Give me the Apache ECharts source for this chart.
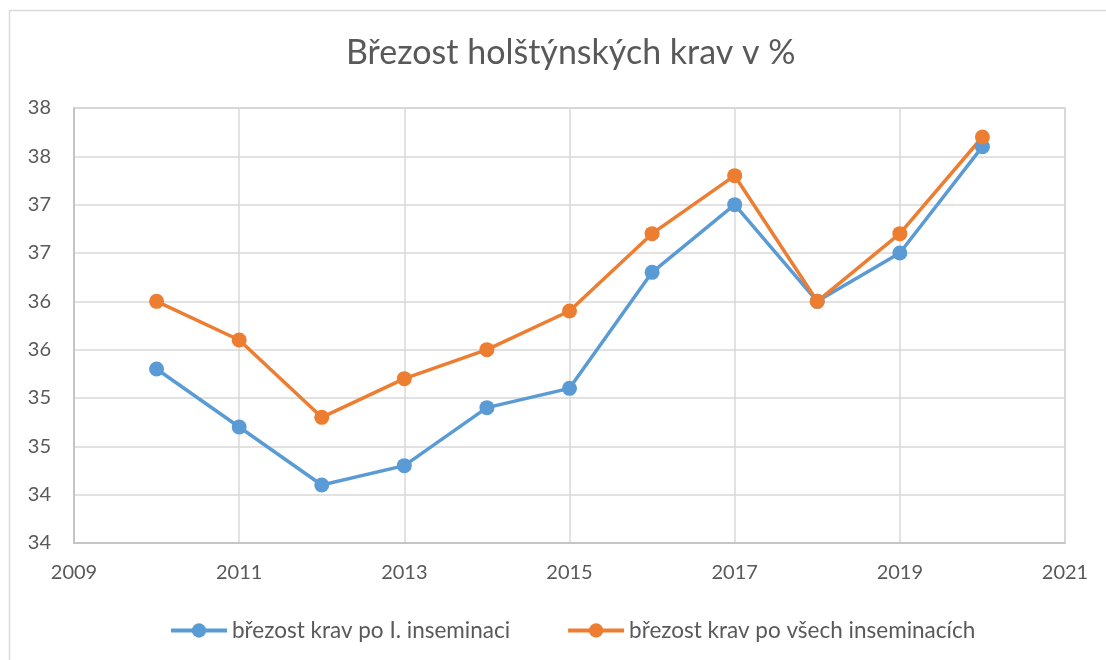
<!DOCTYPE html>
<html>
<head>
<meta charset="utf-8">
<script src="https://cdn.jsdelivr.net/npm/echarts@6/dist/echarts.min.js"></script>
<style>
  html, body { margin: 0; padding: 0; background: #fff; }
  #chart { width: 1106px; height: 660px; }
</style>
</head>
<body>
<div id="chart"></div>
<script>
// roky
var years = [2010, 2011, 2012, 2013, 2014, 2015, 2016, 2017, 2018, 2019, 2020]
// březost krav po I. inseminaci (%)
var firstInsemination = [35.3, 34.7, 34.1, 34.3, 34.9, 35.1, 36.3, 37.0, 36.0, 36.5, 37.6]
// březost krav po všech inseminacích (%)
var allInseminations = [36.0, 35.6, 34.8, 35.2, 35.5, 35.9, 36.7, 37.3, 36.0, 36.7, 37.7]

var seriesNames = ['březost krav po I. inseminaci', 'březost krav po všech inseminacích']

function pairs(values) {
  return years.map(function (y, i) { return [y, values[i]] })
}

var font = 'Lato, "Open Sans", sans-serif'
var textColor = '#595959'

var chart = echarts.init(document.getElementById('chart'))
chart.setOption({
  animation: false,
  textStyle: { fontFamily: font },
  title: {
    text: 'Březost holštýnských krav v %',
    left: 341,
    top: 31,
    textStyle: { fontFamily: font, fontSize: 34, fontWeight: 'normal', color: textColor }
  },
  // rámeček grafu
  graphic: [{
    type: 'rect',
    shape: { x: 9.5, y: 10.5, width: 1200, height: 700 },
    style: { fill: 'none', stroke: '#d9d9d9', lineWidth: 1.5 },
    silent: true
  }],
  grid: { left: 74, top: 108, right: 41, bottom: 117, show: true, borderColor: '#c8c8c8', borderWidth: 1.5 },
  legend: {
    bottom: 13,
    left: 164,
    itemWidth: 56,
    itemHeight: 18,
    itemGap: 56,
    lineStyle: { width: 4 },
    textStyle: { fontFamily: font, fontSize: 22.5, color: textColor },
    data: seriesNames
  },
  xAxis: {
    type: 'value',
    min: 2009,
    max: 2021,
    interval: 2,
    axisLine: { show: true, lineStyle: { color: '#bfbfbf', width: 1.5 } },
    axisTick: { show: false },
    axisLabel: {
      fontFamily: font, fontSize: 20, color: textColor, margin: 20,
      formatter: function (v) { return String(v) }
    },
    splitLine: { show: true, lineStyle: { color: '#d9d9d9', width: 1.5 } }
  },
  yAxis: {
    type: 'value',
    min: 33.5,
    max: 38,
    interval: 0.5,
    axisLine: { show: true, lineStyle: { color: '#bfbfbf', width: 1.5 } },
    axisTick: { show: false },
    axisLabel: {
      fontFamily: font, fontSize: 20, color: textColor, margin: 23,
      // Excel formát bez desetinných míst
      formatter: function (v) { return String(Math.round(v)) }
    },
    splitLine: { show: true, lineStyle: { color: '#d9d9d9', width: 1.5 } }
  },
  series: [{
    name: seriesNames[0],
    type: 'line',
    data: pairs(firstInsemination),
    symbol: 'circle',
    symbolSize: 15,
    lineStyle: { color: '#5b9bd5', width: 3.5 },
    itemStyle: { color: '#5b9bd5' }
  }, {
    name: seriesNames[1],
    type: 'line',
    data: pairs(allInseminations),
    symbol: 'circle',
    symbolSize: 15,
    lineStyle: { color: '#ed7d31', width: 3.5 },
    itemStyle: { color: '#ed7d31' }
  }]
})
</script>
</body>
</html>
